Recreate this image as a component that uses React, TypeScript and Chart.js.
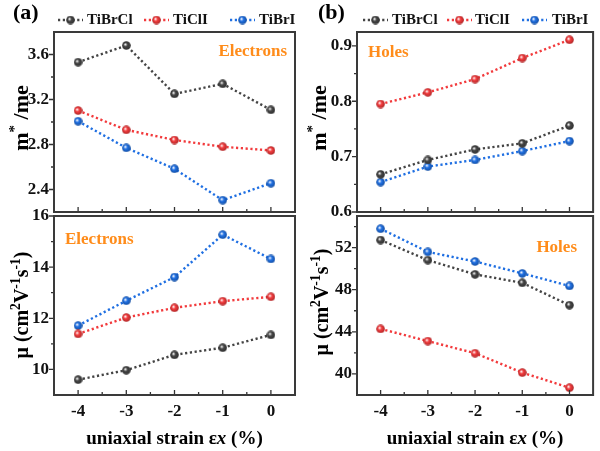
import React, { useEffect, useRef } from "react";
import { Chart, registerables } from "chart.js";

Chart.register(...registerables);

// ---------- data ----------
const strain = [-4, -3, -2, -1, 0];
const seriesNames = ["TiBrCl", "TiClI", "TiBrI"];

const mElecTiBrCl = [3.532, 3.68, 3.25, 3.339, 3.108];
const mElecTiClI = [3.102, 2.93, 2.84, 2.78, 2.747];
const mElecTiBrI = [3.007, 2.77, 2.584, 2.305, 2.456];

const muElecTiBrCl = [9.6, 9.97, 10.57, 10.85, 11.35];
const muElecTiClI = [11.39, 12.03, 12.41, 12.67, 12.84];
const muElecTiBrI = [11.715, 12.686, 13.61, 15.27, 14.32];

const mHoleTiBrCl = [0.668, 0.694, 0.713, 0.724, 0.756];
const mHoleTiClI = [0.795, 0.816, 0.84, 0.878, 0.911];
const mHoleTiBrI = [0.654, 0.682, 0.694, 0.71, 0.728];

const muHoleTiBrCl = [52.72, 50.81, 49.46, 48.65, 46.53];
const muHoleTiClI = [44.28, 43.12, 41.97, 40.13, 38.69];
const muHoleTiBrI = [53.79, 51.59, 50.68, 49.55, 48.36];

const xTickValues = [-4, -3, -2, -1, 0];
const mElecTicks = [2.4, 2.8, 3.2, 3.6];
const muElecTicks = [10, 12, 14, 16];
const mHoleTicks = [0.6, 0.7, 0.8, 0.9];
const muHoleTicks = [40, 44, 48, 52];

// ---------- style ----------
const FONT = "'Liberation Serif', 'Times New Roman', serif";
const COLORS = ["#444444", "#f23a3c", "#1f6fe2"];
const ORANGE = "#ff8c1a";
const W = 600;
const H = 451;
const YW = 50;
const XH = 44;

type Seg = { t: string; sup?: boolean; italic?: boolean };

function segFont(s: Seg, size: number) {
  const sz = s.sup ? size * 0.68 : size;
  return `${s.italic ? "italic " : ""}bold ${sz}px ${FONT}`;
}

function drawRich(ctx: CanvasRenderingContext2D, segs: Seg[], cx: number, baseline: number, size: number) {
  let total = 0;
  for (const s of segs) {
    ctx.font = segFont(s, size);
    total += ctx.measureText(s.t).width;
  }
  let x = cx - total / 2;
  ctx.textAlign = "left";
  ctx.textBaseline = "alphabetic";
  for (const s of segs) {
    ctx.font = segFont(s, size);
    ctx.fillText(s.t, x, s.sup ? baseline - size * 0.4 : baseline);
    x += ctx.measureText(s.t).width;
  }
}

function darken(hex: string, f: number) {
  const n = parseInt(hex.slice(1), 16);
  const r = Math.round(((n >> 16) & 255) * f);
  const g = Math.round(((n >> 8) & 255) * f);
  const b = Math.round((n & 255) * f);
  return `rgb(${r},${g},${b})`;
}

function makeSphere(color: string) {
  const c = document.createElement("canvas");
  const s = 9;
  c.width = s;
  c.height = s;
  const g = c.getContext("2d")!;
  const grad = g.createRadialGradient(3.3, 3.3, 0.2, 4.5, 4.5, 4.6);
  grad.addColorStop(0, "#ffffff");
  grad.addColorStop(0.4, color);
  grad.addColorStop(1, darken(color, 0.7));
  g.fillStyle = grad;
  g.beginPath();
  g.arc(4.5, 4.5, 4.3, 0, Math.PI * 2);
  g.fill();
  return c;
}

type Panel = {
  left: number;
  top: number;
  right: number;
  bottom: number;
  yMin: number;
  yMax: number;
  yTicks: number[];
  yMinorStep: number;
  decimals: number;
  values: number[][];
  bottomPanel: boolean;
  titleSegs: Seg[];
  titleSize: number;
  titleBaseX: number;
  titleY: number;
  note: string;
  noteX: number;
  noteY: number;
  noteAlign: CanvasTextAlign;
  legend?: { tag: string; tagX: number; lines: number[]; texts: number[] };
};

const mTitle: Seg[] = [{ t: "m" }, { t: "*", sup: true }, { t: " /me" }];
const muTitle: Seg[] = [
  { t: "μ (cm" },
  { t: "2", sup: true },
  { t: "V" },
  { t: "-1", sup: true },
  { t: "s" },
  { t: "-1", sup: true },
  { t: ")" },
];
const xTitle: Seg[] = [{ t: "uniaxial strain ε" }, { t: "x", italic: true }, { t: " (%)" }];

const panels: Panel[] = [
  {
    left: 54, top: 32, right: 295, bottom: 212,
    yMin: 2.2, yMax: 3.8, yTicks: mElecTicks, yMinorStep: 0.2, decimals: 1,
    values: [mElecTiBrCl, mElecTiClI, mElecTiBrI], bottomPanel: false,
    titleSegs: mTitle, titleSize: 22, titleBaseX: 28, titleY: 118,
    note: "Electrons", noteX: 287, noteY: 52, noteAlign: "right",
    legend: { tag: "(a)", tagX: 13, lines: [58, 144, 230], texts: [87, 173, 259] },
  },
  {
    left: 54, top: 216, right: 295, bottom: 395,
    yMin: 9, yMax: 16, yTicks: muElecTicks, yMinorStep: 1, decimals: 0,
    values: [muElecTiBrCl, muElecTiClI, muElecTiBrI], bottomPanel: true,
    titleSegs: muTitle, titleSize: 20, titleBaseX: 28, titleY: 305,
    note: "Electrons", noteX: 65, noteY: 240, noteAlign: "left",
  },
  {
    left: 357, top: 32, right: 596, bottom: 212,
    yMin: 0.6, yMax: 0.925, yTicks: mHoleTicks, yMinorStep: 0.05, decimals: 1,
    values: [mHoleTiBrCl, mHoleTiClI, mHoleTiBrI], bottomPanel: false,
    titleSegs: mTitle, titleSize: 22, titleBaseX: 326, titleY: 118,
    note: "Holes", noteX: 368, noteY: 53, noteAlign: "left",
    legend: { tag: "(b)", tagX: 318, lines: [363, 447, 522], texts: [392, 475, 552] },
  },
  {
    left: 357, top: 216, right: 596, bottom: 395,
    yMin: 38, yMax: 55, yTicks: muHoleTicks, yMinorStep: 2, decimals: 0,
    values: [muHoleTiBrCl, muHoleTiClI, muHoleTiBrI], bottomPanel: true,
    titleSegs: muTitle, titleSize: 20, titleBaseX: 328, titleY: 302,
    note: "Holes", noteX: 577, noteY: 248, noteAlign: "right",
  },
];

function PanelChart({ p }: { p: Panel }) {
  const ref = useRef<HTMLCanvasElement | null>(null);
  useEffect(() => {
    if (!ref.current) return;
    const spheres = COLORS.map((c) => makeSphere(c));
    const dash = [2.2, 2.6];
    const plugin = {
      id: "panelDecor",
      afterDraw(chart: any) {
        const ctx: CanvasRenderingContext2D = chart.ctx;
        const a = chart.chartArea;
        const xs = chart.scales.x;
        const ys = chart.scales.y;
        ctx.save();
        ctx.strokeStyle = "#333";
        ctx.lineWidth = 1.3;
        ctx.beginPath();
        // x ticks (inside)
        for (const v of xTickValues) {
          const px = xs.getPixelForValue(v);
          ctx.moveTo(px, a.bottom);
          ctx.lineTo(px, a.bottom - 5);
        }
        for (let i = 0; i < xTickValues.length - 1; i++) {
          const px = xs.getPixelForValue((xTickValues[i] + xTickValues[i + 1]) / 2);
          ctx.moveTo(px, a.bottom);
          ctx.lineTo(px, a.bottom - 3);
        }
        // y ticks (outside)
        for (const v of p.yTicks) {
          const py = ys.getPixelForValue(v);
          ctx.moveTo(a.left - 5, py);
          ctx.lineTo(a.left, py);
        }
        const step = p.yMinorStep;
        for (let v = Math.ceil(p.yMin / step - 1e-6) * step; v <= p.yMax + 1e-9; v += step) {
          const isMajor = p.yTicks.some((t) => Math.abs(t - v) < 1e-6);
          if (isMajor) continue;
          if (Math.abs(v - p.yMin) < 1e-6 || Math.abs(v - p.yMax) < 1e-6) continue;
          const py = ys.getPixelForValue(v);
          ctx.moveTo(a.left - 3, py);
          ctx.lineTo(a.left, py);
        }
        ctx.stroke();
        // frame
        ctx.lineWidth = 2;
        ctx.strokeStyle = "#3a3a3a";
        ctx.strokeRect(a.left, a.top, a.right - a.left, a.bottom - a.top);

        // y title (rotated), baseline at titleBaseX
        ctx.fillStyle = "#000";
        ctx.save();
        ctx.translate(p.titleBaseX, p.titleY);
        ctx.rotate(-Math.PI / 2);
        drawRich(ctx, p.titleSegs, 0, 0, p.titleSize);
        ctx.restore();

        // x title
        if (p.bottomPanel) {
          drawRich(ctx, xTitle, (a.left + a.right) / 2, 444, 19);
        }

        // note
        ctx.fillStyle = ORANGE;
        ctx.font = `bold 17px ${FONT}`;
        ctx.textAlign = p.noteAlign;
        ctx.textBaseline = "middle";
        ctx.fillText(p.note, p.noteX, p.noteY);

        // legend
        if (p.legend) {
          const lg = p.legend;
          ctx.fillStyle = "#000";
          ctx.font = `bold 22px ${FONT}`;
          ctx.textAlign = "left";
          ctx.textBaseline = "middle";
          ctx.fillText(lg.tag, lg.tagX, 13);
          const ly = 20;
          for (let i = 0; i < seriesNames.length; i++) {
            ctx.save();
            ctx.strokeStyle = COLORS[i];
            ctx.lineWidth = 2.4;
            ctx.setLineDash(dash);
            ctx.beginPath();
            ctx.moveTo(lg.lines[i], ly);
            ctx.lineTo(lg.lines[i] + 25, ly);
            ctx.stroke();
            ctx.restore();
            ctx.drawImage(spheres[i], lg.lines[i] + 12.5 - 4.5, ly - 4.5);
            ctx.fillStyle = "#111";
            ctx.font = `bold 15px ${FONT}`;
            ctx.textAlign = "left";
            ctx.textBaseline = "middle";
            ctx.fillText(seriesNames[i], lg.texts[i], ly);
          }
        }
        ctx.restore();
      },
    };

    const chart = new Chart(ref.current, {
      type: "line",
      data: {
        datasets: seriesNames.map((name, i) => ({
          label: name,
          data: strain.map((x, j) => ({ x, y: p.values[i][j] })),
          borderColor: COLORS[i],
          backgroundColor: COLORS[i],
          borderWidth: 2.4,
          borderDash: dash,
          borderCapStyle: "butt",
          pointStyle: spheres[i] as any,
          pointRadius: 4.5,
          fill: false,
          tension: 0,
        })),
      },
      options: {
        responsive: false,
        animation: false,
        events: [],
        layout: {
          padding: {
            left: p.left - YW,
            top: p.top,
            right: W - p.right,
            bottom: H - p.bottom - (p.bottomPanel ? XH : 0),
          },
        },
        plugins: {
          legend: { display: false },
          tooltip: { enabled: false },
          title: { display: false },
        },
        scales: {
          x: {
            type: "linear",
            min: -4.5,
            max: 0.5,
            afterBuildTicks: (s: any) => {
              s.ticks = xTickValues.map((v) => ({ value: v }));
            },
            afterFit: (s: any) => {
              s.height = p.bottomPanel ? XH : 0;
            },
            ticks: {
              display: p.bottomPanel,
              color: "#111",
              font: { family: FONT, size: 17, weight: "bold" },
              padding: 6,
              maxRotation: 0,
              autoSkip: false,
              callback: (v: any) => String(v),
            },
            grid: { display: false, drawTicks: false },
            border: { display: false },
          },
          y: {
            type: "linear",
            min: p.yMin,
            max: p.yMax,
            afterBuildTicks: (s: any) => {
              s.ticks = p.yTicks.map((v) => ({ value: v }));
            },
            afterFit: (s: any) => {
              s.width = YW;
            },
            ticks: {
              color: "#111",
              font: { family: FONT, size: 17, weight: "bold" },
              padding: 5,
              autoSkip: false,
              callback: (v: any) => Number(v).toFixed(p.decimals),
            },
            grid: { display: false, drawTicks: false },
            border: { display: false },
          },
        },
      } as any,
      plugins: [plugin],
    });
    return () => chart.destroy();
  }, [p]);
  return (
    <canvas
      ref={ref}
      width={W}
      height={H}
      style={{ position: "absolute", left: 0, top: 0, width: W, height: H }}
    />
  );
}

export default function App() {
  return (
    <div
      style={{
        position: "fixed",
        left: 0,
        top: 0,
        width: W,
        height: H,
        background: "#ffffff",
        overflow: "hidden",
      }}
    >
      {panels.map((p, i) => (
        <PanelChart key={i} p={p} />
      ))}
    </div>
  );
}
